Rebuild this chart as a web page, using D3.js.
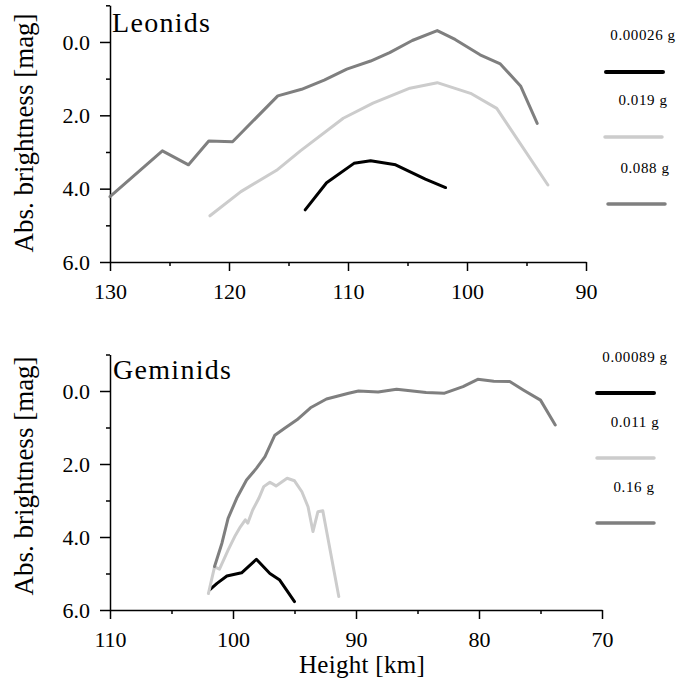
<!DOCTYPE html>
<html>
<head>
<meta charset="utf-8">
<script src="https://cdn.jsdelivr.net/npm/d3@7"></script>
<style>
  html, body { margin: 0; padding: 0; background: #fff; }
  svg { display: block; }
  text { font-family: "Liberation Serif", "Times New Roman", serif; fill: #000; }
</style>
</head>
<body>
<svg id="chart" width="693" height="686"></svg>
<script>
// ---------- DATA ----------
const leoLabels = ["0.00026 g", "0.019 g", "0.088 g"];
const leoH0 = [113.6, 111.8, 109.5, 108.1, 106.0, 103.5, 101.8];
const leoM0 = [4.58, 3.84, 3.31, 3.24, 3.35, 3.74, 3.97];
const leoH1 = [121.6, 119.0, 116.0, 114.0, 110.4, 107.9, 104.8, 102.5, 99.7, 97.5, 93.2];
const leoM1 = [4.74, 4.08, 3.50, 2.97, 2.08, 1.67, 1.26, 1.11, 1.40, 1.81, 3.90];
const leoH2 = [130.0, 125.6, 123.4, 121.7, 119.7, 115.9, 113.9, 112.0, 110.1, 108.1, 106.5, 104.6, 102.5, 101.0, 98.9, 97.2, 95.5, 94.1];
const leoM2 = [4.22, 2.97, 3.35, 2.70, 2.72, 1.47, 1.29, 1.04, 0.74, 0.52, 0.29, -0.04, -0.31, -0.07, 0.35, 0.60, 1.20, 2.22];

const gemLabels = ["0.00089 g", "0.011 g", "0.16 g"];
const gemH0 = [101.9, 101.3, 100.5, 99.3, 98.1, 97.0, 96.2, 95.0];
const gemM0 = [5.45, 5.27, 5.07, 4.98, 4.61, 5.00, 5.18, 5.77];
const gemH1 = [102.0, 101.5, 101.1, 100.4, 99.8, 99.4, 99.0, 98.8, 98.4, 97.9, 97.5, 97.0, 96.5, 95.6, 95.0, 94.4, 93.9, 93.5, 93.1, 92.7, 91.4];
const gemM1 = [5.55, 4.82, 4.88, 4.36, 3.95, 3.72, 3.53, 3.62, 3.26, 2.94, 2.62, 2.50, 2.60, 2.39, 2.46, 2.76, 3.17, 3.85, 3.31, 3.28, 5.63];
const gemH2 = [101.5, 100.9, 100.4, 99.7, 98.9, 98.1, 97.4, 96.6, 95.8, 94.8, 93.7, 92.4, 90.6, 89.8, 88.2, 86.7, 84.3, 82.8, 81.3, 80.1, 78.8, 77.5, 76.4, 75.0, 73.8];
const gemM2 = [4.81, 4.17, 3.49, 2.94, 2.44, 2.12, 1.80, 1.21, 1.02, 0.79, 0.46, 0.22, 0.06, 0.00, 0.03, -0.05, 0.04, 0.06, -0.12, -0.32, -0.27, -0.26, -0.03, 0.25, 0.93];

const leoXTicks = [130, 120, 110, 100, 90];
const leoXMinor = [125, 115, 105, 95];
const gemXTicks = [110, 100, 90, 80, 70];
const gemXMinor = [105, 95, 85, 75];
const yTicks = [0, 2, 4, 6];
const yMinor = [-1, 1, 3, 5];

// ---------- STYLE ----------
const colors = ["#000000", "#cccccc", "#7f7f7f"];
const legendWidths = [4, 3.5, 3.5];

const svg = d3.select("#chart");

function zip(h, m) { return h.map((v, i) => ({h: v, m: m[i]})); }

function panel(cfg) {
  const x = d3.scaleLinear().domain(cfg.xDomain).range(cfg.xRange);
  const y = d3.scaleLinear().domain([-1, 6]).range(cfg.yRange);
  const g = svg.append("g");

  // minor ticks
  g.append("g").attr("transform", `translate(0,${y(6)})`)
    .call(d3.axisBottom(x).tickValues(cfg.xMinor).tickSize(4).tickSizeOuter(0).tickFormat(""))
    .call(s => s.select(".domain").remove());
  g.append("g").attr("transform", `translate(${x(cfg.xDomain[0])},0)`)
    .call(d3.axisLeft(y).tickValues(yMinor).tickSize(4).tickSizeOuter(0).tickFormat(""))
    .call(s => s.select(".domain").remove());

  // major x axis
  const xa = g.append("g").attr("transform", `translate(0,${y(6)})`)
    .call(d3.axisBottom(x).tickValues(cfg.xTicks).tickSize(9).tickSizeOuter(0).tickPadding(12).tickFormat(d3.format("d")));
  xa.selectAll("text").attr("font-size", 22).style("font-family", "Liberation Serif");

  // major y axis
  const ya = g.append("g").attr("transform", `translate(${x(cfg.xDomain[0])},0)`)
    .call(d3.axisLeft(y).tickValues(yTicks).tickSize(10).tickSizeOuter(0).tickPadding(10).tickFormat(d3.format(".1f")));
  ya.selectAll("text").attr("font-size", 22).style("font-family", "Liberation Serif");

  g.selectAll(".domain, .tick line").attr("stroke", "#000").attr("stroke-width", 1.5);

  // lines
  const line = d3.line().x(d => x(d.h)).y(d => y(d.m));
  cfg.series.forEach((s, i) => {
    g.append("path").datum(s)
      .attr("fill", "none").attr("stroke", colors[i]).attr("stroke-width", 3)
      .attr("stroke-linejoin", "round").attr("stroke-linecap", "round")
      .attr("d", line);
  });

  // title
  g.append("text").attr("x", cfg.titleX).attr("y", cfg.titleY)
    .attr("font-size", 28).attr("letter-spacing", 1.3).text(cfg.title);

  // y label
  g.append("text").attr("transform", `translate(33,${cfg.yLabelY}) rotate(-90)`)
    .attr("text-anchor", "middle").attr("font-size", 27).text("Abs. brightness [mag]");

  // legend
  cfg.labels.forEach((lab, i) => {
    g.append("text").attr("x", cfg.legTextX[i]).attr("y", cfg.legTextY[i])
      .attr("text-anchor", "middle").attr("font-size", 15).attr("letter-spacing", 0.6).text(lab);
    g.append("line").attr("x1", cfg.legLineX[i][0]).attr("x2", cfg.legLineX[i][1])
      .attr("y1", cfg.legLineY[i]).attr("y2", cfg.legLineY[i])
      .attr("stroke", colors[i]).attr("stroke-width", legendWidths[i]).attr("stroke-linecap", "round");
  });
}

panel({
  xDomain: [130, 90], xRange: [110, 586], yRange: [5.3, 262],
  xTicks: leoXTicks, xMinor: leoXMinor,
  series: [zip(leoH0, leoM0), zip(leoH1, leoM1), zip(leoH2, leoM2)],
  title: "Leonids", titleX: 112, titleY: 32, yLabelY: 133,
  labels: leoLabels,
  legTextX: [643, 643, 645], legTextY: [40, 105, 173],
  legLineX: [[606, 663], [605, 662], [608, 665]], legLineY: [72, 137, 204]
});

panel({
  xDomain: [110, 70], xRange: [110, 602], yRange: [354.5, 610],
  xTicks: gemXTicks, xMinor: gemXMinor,
  series: [zip(gemH0, gemM0), zip(gemH1, gemM1), zip(gemH2, gemM2)],
  title: "Geminids", titleX: 113, titleY: 379, yLabelY: 476,
  labels: gemLabels,
  legTextX: [635, 635, 634], legTextY: [362, 427, 492],
  legLineX: [[597, 654], [597, 654], [597, 654]], legLineY: [393, 458, 523]
});

svg.append("text").attr("x", 362).attr("y", 673).attr("text-anchor", "middle")
  .attr("font-size", 25).attr("letter-spacing", 0.3).text("Height [km]");
</script>
</body>
</html>
